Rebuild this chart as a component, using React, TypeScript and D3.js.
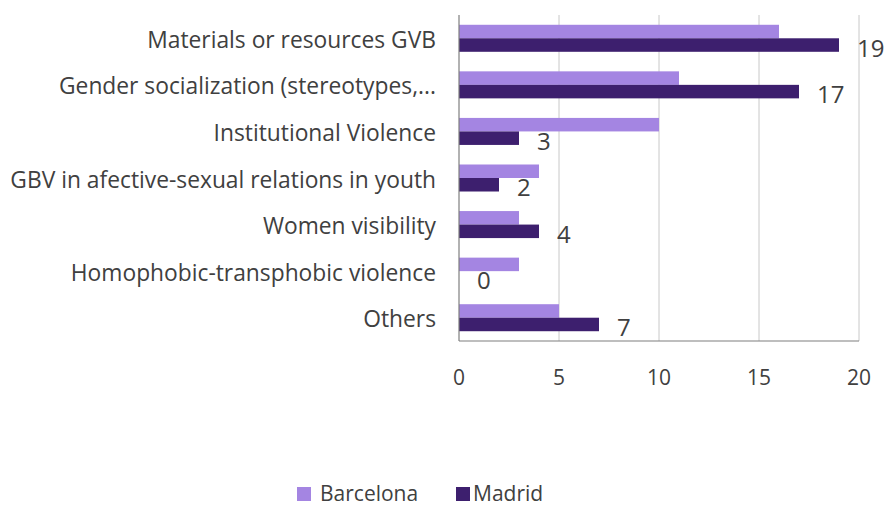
import React from "react";
import * as d3 from "d3";

const categories = [
  "Materials or resources GVB",
  "Gender socialization (stereotypes,...",
  "Institutional Violence",
  "GBV in afective-sexual relations in youth",
  "Women visibility",
  "Homophobic-transphobic violence",
  "Others",
];
const barcelona = [16, 11, 10, 4, 3, 3, 5];
const madrid = [19, 17, 3, 2, 4, 0, 7];
const xTicks = [0, 5, 10, 15, 20];
const seriesNames = ["Barcelona", "Madrid"];
const colors = ["#a485e2", "#3d1f6e"];

const FONT = "'Open Sans', 'Noto Sans', sans-serif";
const TEXT = "#404040";

export default function App() {
  const W = 888, H = 509;
  const left = 459, right = 859, top = 15, bottom = 341;
  const x = d3.scaleLinear().domain([0, 20]).range([left, right]);
  const y = d3.scaleBand<string>().domain(categories).range([top, bottom]).paddingInner(0.42).paddingOuter(0.21);
  const sub = d3.scaleBand<string>().domain(seriesNames).range([0, y.bandwidth()]);
  const series = [barcelona, madrid];

  return (
    <svg width={W} height={H} style={{ position: "absolute", left: 0, top: 0, background: "#fff" }} fontFamily={FONT}>
      {xTicks.slice(1).map((t) => (
        <line key={t} x1={x(t)} x2={x(t)} y1={top} y2={bottom} stroke="#c8c8c8" strokeWidth={1} />
      ))}
      {series.map((vals, si) =>
        vals.map((v, i) => (
          <rect
            key={si + "-" + i}
            x={x(0)}
            y={(y(categories[i]) as number) + (sub(seriesNames[si]) as number)}
            width={x(v) - x(0)}
            height={sub.bandwidth()}
            fill={colors[si]}
          />
        ))
      )}
      <line x1={left} x2={left} y1={top} y2={bottom} stroke="#7f7f7f" strokeWidth={1.2} />
      <line x1={left} x2={right} y1={bottom} y2={bottom} stroke="#7f7f7f" strokeWidth={1.2} />
      {categories.map((c) => (
        <text key={c} x={436} y={(y(c) as number) + y.bandwidth() / 2 + 1} textAnchor="end" dominantBaseline="central" fontSize={22.8} fill={TEXT}>
          {c}
        </text>
      ))}
      {madrid.map((v, i) => (
        <text
          key={"l" + i}
          x={x(v) + 18}
          y={(y(categories[i]) as number) + (sub("Madrid") as number) + sub.bandwidth() / 2 + 2}
          dominantBaseline="central"
          fontSize={24}
          fill={TEXT}
        >
          {v}
        </text>
      ))}
      {xTicks.map((t) => (
        <text key={"t" + t} x={x(t)} y={377} textAnchor="middle" dominantBaseline="central" fontSize={21} fill={TEXT}>
          {t}
        </text>
      ))}
      <g>
        <rect x={297} y={487} width={14} height={14} fill={colors[0]} />
        <text x={320} y={493} dominantBaseline="central" fontSize={21} fill={TEXT}>{seriesNames[0]}</text>
        <rect x={456} y={487} width={14} height={14} fill={colors[1]} />
        <text x={473} y={493} dominantBaseline="central" fontSize={21} fill={TEXT}>{seriesNames[1]}</text>
      </g>
    </svg>
  );
}
